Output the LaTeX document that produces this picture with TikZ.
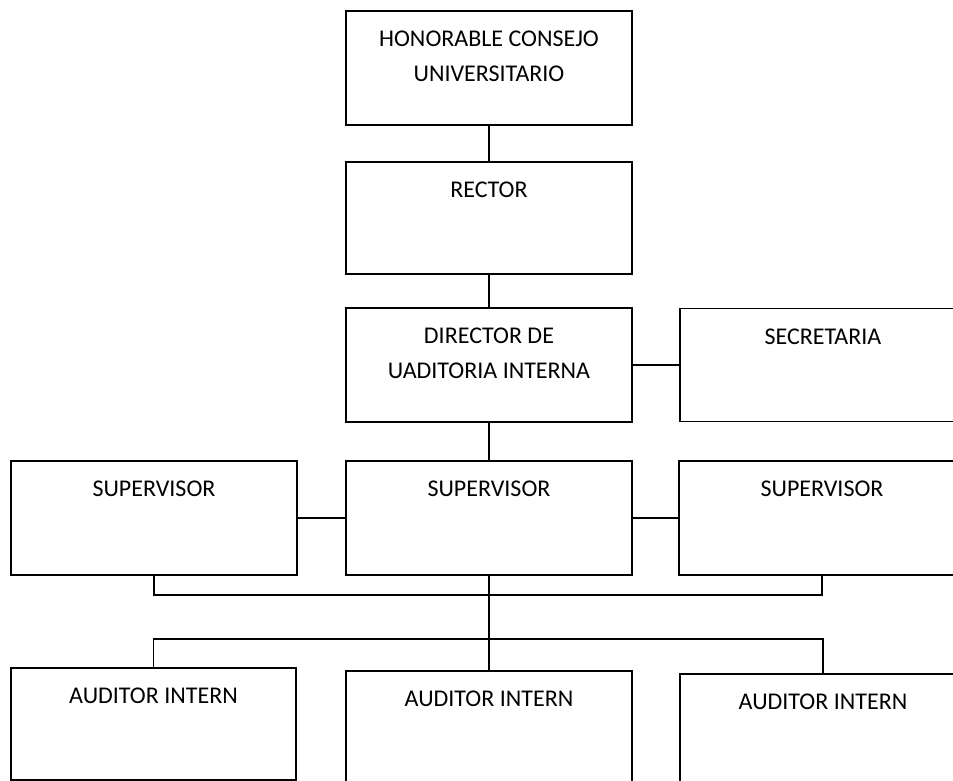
\documentclass[tikz,border=0pt]{standalone}
\usepackage{fontspec}
\setmainfont{Carlito}
\usepackage{tikz}
\usetikzlibrary{positioning}

\begin{document}
\begin{tikzpicture}[
  x=1pt,y=-1pt,
  line width=1.3pt,
  unit/.style={rectangle,draw=black,minimum width=286pt,minimum height=114pt,inner sep=0pt},
  title/.style={anchor=north,inner sep=0pt,yshift=-20pt,align=center,
    font=\fontsize{24}{35}\selectfont},
]
\clip (0,0) rectangle (953,781);

% top of the chart
\node[unit,label={[title]north:HONORABLE CONSEJO\\UNIVERSITARIO}] (hcu) at (489,68) {};
\node[unit,minimum height=112pt,label={[title]north:RECTOR}] (rector) at (489,218) {};
\node[unit,label={[title]north:DIRECTOR DE\\UADITORIA INTERNA}] (director) at (489,365) {};
\node[unit,minimum height=113pt,label={[title]north:SECRETARIA}] (secretaria) at (823,365) {};

% supervisors
\node[unit,label={[title]north:SUPERVISOR}] (supL) at (154,518) {};
\node[unit,label={[title]north:SUPERVISOR}] (supM) at (489,518) {};
\node[unit,label={[title]north:SUPERVISOR}] (supR) at (822,518) {};

% internal auditors
\node[unit,minimum width=285pt,minimum height=112pt,label={[title]north:AUDITOR INTERN}] (audL) at (153.5,724) {};
\node[unit,label={[title]north:AUDITOR INTERN}] (audM) at (489,728) {};
\node[unit,label={[title]north:AUDITOR INTERN}] (audR) at (823,731) {};

\coordinate (busU) at (489,595);
\coordinate (busD) at (489,639);

\draw (hcu.south) -- (rector.north);
\draw (rector.south) -- (director.north);
\draw (director.east) -- (secretaria.west);
\draw (director.south) -- (supM.north);
\draw (supL.east) -- (supM.west);
\draw (supM.east) -- (supR.west);
\draw (supL.south) |- (busU) -| (supR.south);
\draw (supM.south) -- (busU) -- (busD);
\draw (audL.north) |- (busD) -| (audR.north);
\draw (busD) -- (audM.north);
\end{tikzpicture}
\end{document}
